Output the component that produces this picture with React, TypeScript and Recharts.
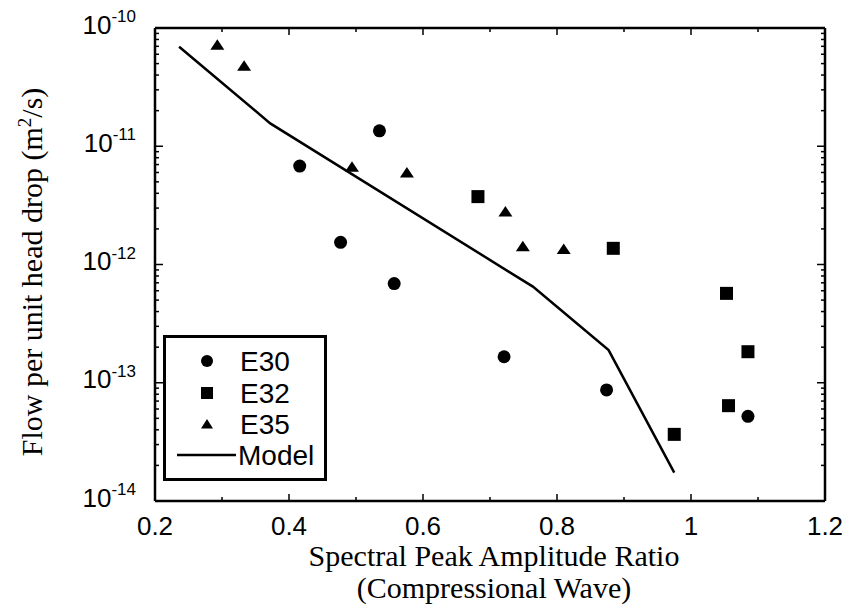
import React from 'react';
import { ScatterChart, Scatter, XAxis, YAxis, Legend, Label } from 'recharts';

const SANS = '"Liberation Sans", Arial, Helvetica, sans-serif';
const SERIF = '"Liberation Serif", "Times New Roman", Times, serif';

const E30_X = [0.416, 0.477, 0.535, 0.557, 0.721, 0.874, 1.085];
const E30_Y = [6.8e-12, 1.54e-12, 1.35e-11, 6.9e-13, 1.66e-13, 8.7e-14, 5.2e-14];

const E32_X = [0.682, 0.884, 0.975, 1.053, 1.056, 1.085];
const E32_Y = [3.75e-12, 1.37e-12, 3.66e-14, 5.7e-13, 6.4e-14, 1.83e-13];

const E35_X = [0.293, 0.333, 0.494, 0.576, 0.723, 0.749, 0.81];
const E35_Y = [7.2e-11, 4.8e-11, 6.7e-12, 6.0e-12, 2.8e-12, 1.43e-12, 1.35e-12];

const MODEL_X = [0.236, 0.372, 0.764, 0.877, 0.975];
const MODEL_Y = [6.95e-11, 1.56e-11, 6.5e-13, 1.89e-13, 1.74e-14];

const X_MAJOR = [0.2, 0.4, 0.6, 0.8, 1, 1.2];
const X_MAJOR_LABELS = ['0.2', '0.4', '0.6', '0.8', '1', '1.2'];
const X_MINOR = [0.3, 0.5, 0.7, 0.9, 1.1];

const Y_MAJOR = [1e-14, 1e-13, 1e-12, 1e-11, 1e-10];
const Y_EXPONENTS = ['-14', '-13', '-12', '-11', '-10'];
const MINOR_MULT = [2, 3, 4, 5, 6, 7, 8, 9];

const LEGEND_NAMES = ['E30', 'E32', 'E35', 'Model'];

const zip = (xs: number[], ys: number[]) => xs.map((x, i) => ({ x, y: ys[i] }));
const e30 = zip(E30_X, E30_Y);
const e32 = zip(E32_X, E32_Y);
const e35 = zip(E35_X, E35_Y);
const model = zip(MODEL_X, MODEL_Y);

const xTicks = [...X_MAJOR, ...X_MINOR].sort((a, b) => a - b);
const yTicks: number[] = [];
Y_MAJOR.forEach((d, i) => {
  yTicks.push(d);
  if (i < Y_MAJOR.length - 1) MINOR_MULT.forEach(m => yTicks.push(m * d));
});

const xMajorIndex = (v: number) => X_MAJOR.findIndex(t => Math.abs(t - v) < 1e-6);
const yMajorIndex = (v: number) => Y_MAJOR.findIndex(t => Math.abs(t - v) / t < 1e-6);

const BottomTick = ({ x, y, payload }: any) => {
  const i = xMajorIndex(payload.value);
  const len = i >= 0 ? 7 : 4;
  return (
    <g>
      <line x1={x} x2={x} y1={y} y2={y - len} stroke="#000" strokeWidth={1.5} />
      {i >= 0 && (
        <text x={x} y={y + 34} textAnchor="middle" fontSize={26} fontFamily={SANS} fill="#000">
          {X_MAJOR_LABELS[i]}
        </text>
      )}
    </g>
  );
};

const TopTick = ({ x, y, payload }: any) => {
  const len = xMajorIndex(payload.value) >= 0 ? 7 : 4;
  return <line x1={x} x2={x} y1={y} y2={y + len} stroke="#000" strokeWidth={1.5} />;
};

const LeftTick = ({ x, y, payload }: any) => {
  const i = yMajorIndex(payload.value);
  const len = i >= 0 ? 8 : 4;
  return (
    <g>
      <line x1={x} x2={x + len} y1={y} y2={y} stroke="#000" strokeWidth={1.5} />
      {i >= 0 && (
        <text x={x - 19} y={y + 5.5} textAnchor="end" fontSize={26} fontFamily={SANS} fill="#000">
          10
          <tspan fontSize={17} dy={-11.5}>{Y_EXPONENTS[i]}</tspan>
        </text>
      )}
    </g>
  );
};

const RightTick = ({ x, y, payload }: any) => {
  const len = yMajorIndex(payload.value) >= 0 ? 8 : 4;
  return <line x1={x} x2={x - len} y1={y} y2={y} stroke="#000" strokeWidth={1.5} />;
};

const Dot = ({ cx, cy }: any) => <circle cx={cx} cy={cy} r={6.5} fill="#000" />;
const Box = ({ cx, cy }: any) => <rect x={cx - 6.5} y={cy - 6.5} width={13} height={13} fill="#000" />;
const Tri = ({ cx, cy }: any) => (
  <polygon points={`${cx - 7},${cy + 5} ${cx + 7},${cy + 5} ${cx},${cy - 5.5}`} fill="#000" />
);
const NoMark = () => <g />;

const XTitle = () => (
  <text textAnchor="middle" fontSize={30} fontFamily={SERIF} fill="#000">
    <tspan x={494} y={566}>Spectral Peak Amplitude Ratio</tspan>
    <tspan x={494} y={598}>(Compressional Wave)</tspan>
  </text>
);

const YTitle = () => (
  <text
    x={42}
    y={272}
    transform="rotate(-90, 42, 272)"
    textAnchor="middle"
    fontSize={30}
    fontFamily={SERIF}
    fill="#000"
  >
    Flow per unit head drop (m
    <tspan fontSize={19} dy={-11}>2</tspan>
    <tspan dy={11}>/s)</tspan>
  </text>
);

const LegendBox = () => {
  const rows = [26, 58, 89, 120];
  return (
    <div
      style={{
        width: 164,
        height: 146,
        boxSizing: 'border-box',
        border: '3px solid #000',
        background: '#fff',
      }}
    >
      <svg width={158} height={140} style={{ display: 'block' }}>
        <g transform="translate(-3,-3)">
          <circle cx={44} cy={rows[0]} r={6} fill="#000" />
          <rect x={38} y={rows[1] - 6} width={12} height={12} fill="#000" />
          <polygon points={`${38},${rows[2] + 4.5} ${50},${rows[2] + 4.5} ${44},${rows[2] - 5}`} fill="#000" />
          <line x1={14} x2={73} y1={rows[3]} y2={rows[3]} stroke="#000" strokeWidth={2.5} />
          {LEGEND_NAMES.map((n, i) => (
            <text
              key={n}
              x={i === 3 ? 75 : 77}
              y={rows[i] + 10}
              fontSize={28}
              fontFamily={SANS}
              fill="#000"
            >
              {n}
            </text>
          ))}
        </g>
      </svg>
    </div>
  );
};

export default function App() {
  return (
    <div style={{ position: 'absolute', left: 0, top: 0, width: 852, height: 606, background: '#fff' }}>
      <ScatterChart width={852} height={606} margin={{ top: 27, right: 26, bottom: 0, left: 0 }}>
        <XAxis
          xAxisId="bottom"
          dataKey="x"
          type="number"
          domain={[0.2, 1.2]}
          ticks={xTicks}
          interval={0}
          allowDataOverflow
          height={105}
          tickSize={0}
          tickMargin={0}
          tickLine={false}
          axisLine={{ stroke: '#000', strokeWidth: 2.5 }}
          tick={<BottomTick />}
        >
          <Label content={<XTitle />} />
        </XAxis>
        <XAxis
          xAxisId="top"
          orientation="top"
          dataKey="x"
          type="number"
          domain={[0.2, 1.2]}
          ticks={xTicks}
          interval={0}
          allowDataOverflow
          height={1}
          tickSize={0}
          tickMargin={0}
          tickLine={false}
          axisLine={{ stroke: '#000', strokeWidth: 2.5 }}
          tick={<TopTick />}
        />
        <YAxis
          yAxisId="left"
          dataKey="y"
          type="number"
          scale="log"
          domain={[1e-14, 1e-10]}
          ticks={yTicks}
          interval={0}
          allowDataOverflow
          width={155}
          tickSize={0}
          tickMargin={0}
          tickLine={false}
          axisLine={{ stroke: '#000', strokeWidth: 2.5 }}
          tick={<LeftTick />}
        >
          <Label content={<YTitle />} />
        </YAxis>
        <YAxis
          yAxisId="right"
          orientation="right"
          dataKey="y"
          type="number"
          scale="log"
          domain={[1e-14, 1e-10]}
          ticks={yTicks}
          interval={0}
          allowDataOverflow
          width={1}
          tickSize={0}
          tickMargin={0}
          tickLine={false}
          axisLine={{ stroke: '#000', strokeWidth: 2.5 }}
          tick={<RightTick />}
        />
        <Scatter
          name="Model"
          data={model}
          xAxisId="bottom"
          yAxisId="left"
          line={{ stroke: '#000', strokeWidth: 2.5 }}
          lineType="joint"
          shape={<NoMark />}
          isAnimationActive={false}
        />
        <Scatter name="E30" data={e30} xAxisId="bottom" yAxisId="left" shape={<Dot />} isAnimationActive={false} />
        <Scatter name="E32" data={e32} xAxisId="bottom" yAxisId="left" shape={<Box />} isAnimationActive={false} />
        <Scatter name="E35" data={e35} xAxisId="bottom" yAxisId="left" shape={<Tri />} isAnimationActive={false} />
        <Legend
          layout="vertical"
          align="center"
          verticalAlign="middle"
          wrapperStyle={{ left: 163, top: 335, width: 164, height: 146 }}
          content={() => <LegendBox />}
        />
      </ScatterChart>
    </div>
  );
}
